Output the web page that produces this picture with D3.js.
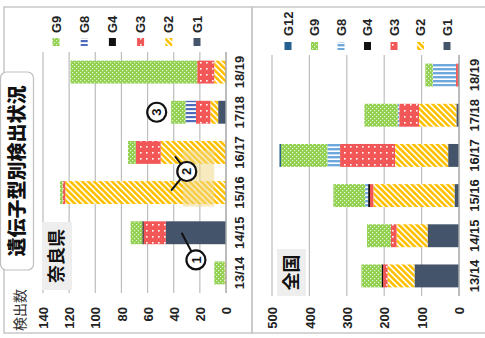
<!DOCTYPE html>
<html>
<head>
<meta charset="utf-8">
<script src="https://cdn.jsdelivr.net/npm/d3@7"></script>
<style>
  body { margin: 0; background: #fff; }
  text { font-family: "Liberation Sans", Arial, sans-serif; }
  .jp { font-family: "Noto Sans CJK JP", sans-serif; }
</style>
</head>
<body>
<svg id="chart" width="485" height="338"></svg>
<script>
// seasons, bottom to top on screen
var seasons = ["13/14", "14/15", "15/16", "16/17", "17/18", "18/19"];
var genotypes = ["G1", "G2", "G3", "G4", "G8", "G9", "G12"];

// 奈良県
var naraG1 = [0, 46, 0, 0, 6, 0];
var naraG2 = [1, 0, 123, 50, 6, 9];
var naraG3 = [0, 17, 2, 19, 11, 13];
var naraG4 = [0, 1, 0, 0, 0, 0];
var naraG8 = [0, 0, 0, 0, 8, 0];
var naraG9 = [8, 9, 2, 6, 11, 97];
var naraTicks = [0, 20, 40, 60, 80, 100, 120, 140];

// 全国
var zenG1 = [119, 84, 12, 29, 7, 3];
var zenG2 = [72, 83, 217, 142, 100, 0];
var zenG3 = [12, 15, 9, 147, 53, 5];
var zenG4 = [4, 0, 5, 0, 0, 0];
var zenG8 = [0, 0, 8, 34, 4, 62];
var zenG9 = [54, 64, 85, 124, 89, 20];
var zenG12 = [0, 0, 0, 4, 0, 0];
var zenTicks = [0, 100, 200, 300, 400, 500];

var svg = d3.select("#chart");
var defs = svg.append("defs");

// pattern fills (Excel style)
function stripes(id, color, w, gap, angle) {
  var p = defs.append("pattern").attr("id", id).attr("patternUnits", "userSpaceOnUse")
    .attr("width", w + gap).attr("height", 10).attr("patternTransform", "rotate(" + angle + ")");
  p.append("rect").attr("width", w + gap).attr("height", 10).attr("fill", "#fff");
  p.append("rect").attr("width", w).attr("height", 10).attr("fill", color);
}
stripes("pG2", "#ffc000", 2.6, 1.6, -45);
stripes("pG8a", "#4f6cbc", 2.2, 1.8, 90);
stripes("pG8b", "#6fa8dc", 2.4, 1.6, 90);

var p3 = defs.append("pattern").attr("id", "pG3").attr("patternUnits", "userSpaceOnUse")
  .attr("width", 6).attr("height", 6);
p3.append("rect").attr("width", 6).attr("height", 6).attr("fill", "#f25757");
p3.append("rect").attr("x", 2).attr("y", 2).attr("width", 1.6).attr("height", 1.6).attr("fill", "#fff");

var p9 = defs.append("pattern").attr("id", "pG9").attr("patternUnits", "userSpaceOnUse")
  .attr("width", 4).attr("height", 4);
p9.append("rect").attr("width", 4).attr("height", 4).attr("fill", "#92d050");
p9.append("rect").attr("x", 0).attr("y", 0).attr("width", 1.2).attr("height", 1.2).attr("fill", "#e4f3d2");
p9.append("rect").attr("x", 2).attr("y", 2).attr("width", 1.2).attr("height", 1.2).attr("fill", "#e4f3d2");

// panel frames
svg.append("rect").attr("x", 4).attr("y", 7).attr("width", 248).attr("height", 326)
  .attr("fill", "none").attr("stroke", "#c8c8c8").attr("stroke-width", 1.5);
svg.append("rect").attr("x", 252).attr("y", 7).attr("width", 240).attr("height", 326)
  .attr("fill", "none").attr("stroke", "#c8c8c8").attr("stroke-width", 1.5);

function drawPanel(p) {
  var rows = seasons.map(function (s, i) {
    var r = { season: s };
    p.keys.forEach(function (k) { r[k] = p.values[k][i]; });
    return r;
  });
  var x = d3.scaleLinear().domain([0, p.max]).range([p.axisX, p.leftX]);
  var y = d3.scaleBand().domain(seasons.slice().reverse())
    .range([p.top, p.bottom]).paddingInner(0.43).paddingOuter(0.215);

  var g = svg.append("g");

  // gridlines
  g.selectAll(".grid").data(p.ticks.filter(function (t) { return t > 0; })).enter()
    .append("line")
    .attr("x1", function (d) { return x(d); }).attr("x2", function (d) { return x(d); })
    .attr("y1", p.top).attr("y2", p.bottom)
    .attr("stroke", "#bdbdbd").attr("stroke-width", 1.2);

  var stack = d3.stack().keys(p.keys)(rows);
  var layer = g.selectAll(".layer").data(stack).enter().append("g")
    .attr("fill", function (d) { return p.fills[d.key]; });
  layer.selectAll("rect").data(function (d) { return d; }).enter().append("rect")
    .attr("x", function (d) { return x(d[1]); })
    .attr("y", function (d) { return y(d.data.season); })
    .attr("width", function (d) { return x(d[0]) - x(d[1]); })
    .attr("height", y.bandwidth());

  // category axis line
  g.append("line").attr("x1", x(0)).attr("x2", x(0)).attr("y1", p.top).attr("y2", p.bottom)
    .attr("stroke", "#a6a6a6").attr("stroke-width", 1.5);

  // value axis labels
  var xAxis = d3.axisBottom(x).tickValues(p.ticks).tickSize(0);
  var ax = g.append("g").attr("transform", "translate(0," + p.tickY + ")").call(xAxis);
  ax.select(".domain").remove();
  ax.selectAll("text").attr("x", 0).attr("y", 0).attr("dy", "0.36em")
    .attr("transform", "rotate(-90)").style("text-anchor", "end")
    .style("font-size", "13px").style("font-weight", "bold").attr("fill", "#222");

  // season labels
  var yAxis = d3.axisRight(y).tickSize(0);
  var ay = g.append("g").attr("transform", "translate(" + p.labelX + ",0)").call(yAxis);
  ay.select(".domain").remove();
  ay.selectAll("text").attr("x", 0).attr("dy", "0.36em")
    .attr("transform", "rotate(-90)").style("text-anchor", "middle")
    .style("font-size", "13px").style("font-weight", "bold").attr("fill", "#222");

  // legend (G1 at right)
  var legKeys = p.keys.slice().reverse();
  var lx = function (i) { return p.legendX0 + i * p.legendStep; };
  legKeys.forEach(function (k, i) {
    g.append("rect").attr("x", lx(i) - 3.5).attr("y", p.swatchY).attr("width", 7).attr("height", 8)
      .attr("fill", p.fills[k]);
    g.append("text").attr("transform", "translate(" + lx(i) + "," + p.legendTextY + ") rotate(-90)")
      .attr("dy", "0.36em").style("font-size", "13px").style("font-weight", "bold")
      .attr("fill", "#222").text(k);
  });

  // region label box
  g.append("rect").attr("x", p.nameBox[0]).attr("y", p.nameBox[1]).attr("width", p.nameBox[2])
    .attr("height", p.nameBox[3]).attr("fill", "#eeeeee");
  g.append("text").attr("class", "jp")
    .attr("transform", "translate(" + (p.nameBox[0] + p.nameBox[2] / 2) + "," +
      (p.nameBox[1] + p.nameBox[3] / 2) + ") rotate(-90)")
    .attr("dy", "0.36em").style("text-anchor", "middle").style("font-size", "18px")
    .style("font-weight", "bold").attr("fill", "#111").text(p.name);

  return { x: x, y: y };
}

var nara = drawPanel({
  keys: ["G1", "G2", "G3", "G4", "G8", "G9"],
  values: { G1: naraG1, G2: naraG2, G3: naraG3, G4: naraG4, G8: naraG8, G9: naraG9 },
  fills: { G1: "#44546a", G2: "url(#pG2)", G3: "url(#pG3)", G4: "#111", G8: "url(#pG8a)", G9: "url(#pG9)" },
  max: 140, ticks: naraTicks, axisX: 226, leftX: 43, top: 52, bottom: 293,
  tickY: 307, labelX: 239, legendX0: 56, legendStep: 28.2, swatchY: 38, legendTextY: 33,
  name: "奈良県", nameBox: [42, 222, 30, 68]
});

var zen = drawPanel({
  keys: ["G1", "G2", "G3", "G4", "G8", "G9", "G12"],
  values: { G1: zenG1, G2: zenG2, G3: zenG3, G4: zenG4, G8: zenG8, G9: zenG9, G12: zenG12 },
  fills: { G1: "#44546a", G2: "url(#pG2)", G3: "url(#pG3)", G4: "#111", G8: "url(#pG8b)", G9: "url(#pG9)", G12: "#255e91" },
  max: 500, ticks: zenTicks, axisX: 459, leftX: 272, top: 55, bottom: 296,
  tickY: 307, labelX: 474, legendX0: 288, legendStep: 26.5, swatchY: 42, legendTextY: 36,
  name: "全国", nameBox: [277, 249, 29, 47]
});

// title tab
svg.append("rect").attr("x", 0.5).attr("y", 72).attr("width", 33).attr("height", 198).attr("rx", 6)
  .attr("fill", "#fff").attr("stroke", "#bfbfbf").attr("stroke-width", 1.2);
svg.append("text").attr("class", "jp").attr("transform", "translate(17,171) rotate(-90)")
  .attr("dy", "0.36em").style("text-anchor", "middle").style("font-size", "19px")
  .style("font-weight", "900").attr("fill", "#111").text("遺伝子型別検出状況");

// y title
svg.append("text").attr("class", "jp").attr("transform", "translate(20,310) rotate(-90)")
  .attr("dy", "0.36em").style("text-anchor", "middle").style("font-size", "14px")
  .attr("fill", "#333").text("検出数");

// annotations
var bw = nara.y.bandwidth();
var cy = function (s) { return nara.y(s) + bw / 2; };
svg.append("rect").attr("x", nara.x(33)).attr("y", cy("16/17") - 2).attr("width", nara.x(9) - nara.x(33))
  .attr("height", cy("15/16") - cy("16/17") + 16).attr("fill", "#f0d98a").attr("opacity", 0.55);

function marker(cx, cyy, label, lines) {
  lines.forEach(function (l) {
    svg.append("line").attr("x1", l[0]).attr("y1", l[1]).attr("x2", cx).attr("y2", cyy)
      .attr("stroke", "#111").attr("stroke-width", 2);
  });
  svg.append("circle").attr("cx", cx).attr("cy", cyy).attr("r", 9.5)
    .attr("fill", "#fff").attr("stroke", "#111").attr("stroke-width", 2.2);
  svg.append("text").attr("transform", "translate(" + cx + "," + cyy + ") rotate(-90)")
    .attr("dy", "0.36em").style("text-anchor", "middle").style("font-size", "13px")
    .style("font-weight", "bold").attr("fill", "#111").text(label);
}
marker(nara.x(23), cy("13/14") - 13, "1", [[nara.x(34), cy("14/15")]]);
marker(nara.x(30), (cy("16/17") + cy("15/16")) / 2 - 1, "2",
  [[nara.x(39), cy("16/17") + 4], [nara.x(42), cy("15/16") - 2]]);
marker(nara.x(53), cy("17/18"), "3", []);
</script>
</body>
</html>
